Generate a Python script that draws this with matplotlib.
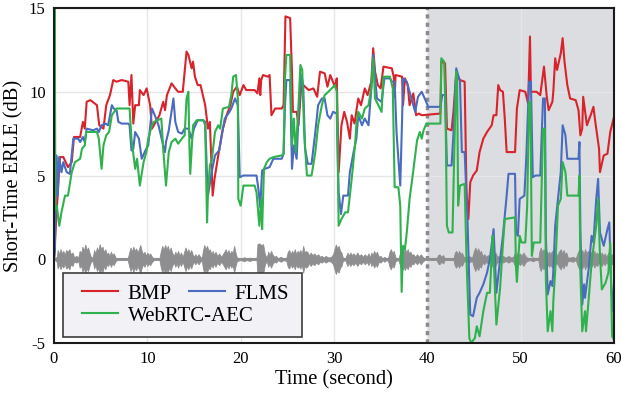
import numpy as np
import matplotlib
matplotlib.use("Agg")
import matplotlib.pyplot as plt
from matplotlib.patches import Rectangle

plt.rcParams['font.family'] = ['Liberation Serif', 'DejaVu Serif']

# (time s, ERLE dB)
bmp = [(0, 0), (0.3, 3.0), (0.64, 6.1), (1.0, 6.1), (1.5, 5.5), (1.9, 5.8), (2.14, 7.3), (2.8, 7.3),
       (3.1, 8.2), (3.3, 7.8), (3.5, 9.4), (3.9, 9.5), (4.6, 9.2), (4.85, 8.0), (5.3, 7.8), (5.6, 9.2),
       (6.0, 9.8), (6.35, 10.7), (6.7, 10.6), (7.25, 10.7), (7.96, 10.6), (8.1, 9.2), (8.3, 11.0),
       (8.5, 8.1), (8.7, 9.2), (9.1, 9.2), (9.2, 10.1), (9.6, 9.8), (9.93, 10.2), (10.3, 9.2),
       (10.5, 7.8), (11.3, 8.6), (11.7, 9.4), (11.9, 8.9), (12.1, 9.8), (12.6, 10.5), (13.0, 10.2),
       (13.3, 10.0), (13.8, 10.0), (14.2, 12.4), (14.4, 12.2), (14.75, 11.4), (14.9, 11.8),
       (15.1, 10.9), (15.4, 10.4), (15.7, 10.4), (16.2, 9.2), (16.5, 7.8), (16.7, 8.2), (17.0, 3.8),
       (17.2, 4.8), (17.6, 6.2), (18.1, 7.8), (18.5, 8.6), (18.9, 9.2), (19.2, 10.0), (19.6, 10.3),
       (19.9, 9.8), (20.3, 10.4), (20.6, 10.1), (21.5, 10.1), (21.8, 9.9), (22.0, 10.8), (22.1, 9.8),
       (22.2, 10.7), (22.4, 11.0), (22.9, 10.9), (23.1, 11.0), (23.3, 8.6), (23.7, 9.0), (24.4, 9.0),
       (24.6, 9.2), (24.8, 14.5), (25.3, 14.4), (25.5, 11.2), (25.6, 8.8), (26.0, 8.8), (26.2, 8.0),
       (26.5, 10.4), (26.7, 10.4), (27.3, 10.1), (27.8, 10.2), (28.2, 9.7), (28.5, 11.2), (29.0, 11.1),
       (29.3, 10.3), (29.6, 11.0), (30.1, 10.3), (30.3, 10.8), (30.5, 5.2), (30.8, 8.0), (31.1, 8.8),
       (31.4, 8.2), (31.7, 7.2), (31.9, 8.6), (32.2, 8.1), (32.6, 9.6), (32.9, 9.2), (33.3, 10.2),
       (33.6, 9.8), (34.0, 10.6), (34.2, 12.6), (34.4, 11.2), (34.7, 10.4), (35.0, 10.2), (35.3, 11.5),
       (36.2, 11.4), (36.4, 10.9), (36.5, 9.7), (36.6, 11.0), (37.3, 10.9), (37.4, 9.2), (37.6, 10.8),
       (37.9, 10.4), (38.1, 9.2), (38.5, 9.9), (38.8, 8.6), (39.1, 8.7), (39.4, 8.6), (41.4, 8.7),
       (41.5, 11.8), (41.9, 11.7), (42.1, 7.8), (42.6, 7.7), (42.8, 8.8), (43.1, 11.1), (43.5, 10.7),
       (44.0, 10.6), (44.2, 4.0), (44.4, 2.4), (44.6, 4.6), (44.9, 5.0), (45.3, 5.3), (45.6, 6.4),
       (46.0, 7.2), (46.4, 7.6), (46.9, 8.0), (47.1, 8.6), (47.4, 8.6), (47.6, 10.4), (47.8, 10.1),
       (48.1, 10.0), (48.3, 8.4), (48.5, 6.4), (49.4, 6.4), (49.6, 9.0), (49.9, 10.1), (50.5, 10.0),
       (50.8, 9.3), (51.0, 13.3), (51.1, 10.0), (51.7, 10.0), (52.1, 9.8), (52.5, 11.5), (52.8, 9.7),
       (53.0, 8.9), (53.4, 9.4), (53.5, 10.0), (53.7, 12.0), (53.9, 11.3), (54.3, 12.3), (54.5, 13.2),
       (54.7, 11.8), (55.0, 10.4), (55.3, 9.6), (55.9, 9.5), (56.2, 8.9), (56.4, 7.4), (56.6, 7.8),
       (56.7, 9.7), (57.1, 8.0), (57.5, 8.6), (57.8, 9.1), (58.0, 8.2), (58.4, 6.6), (58.5, 5.2),
       (58.9, 6.2), (59.3, 6.3), (59.6, 7.6), (60.0, 8.5)]

flms = [(0, 0), (0.1, 0.5), (0.25, 6.2), (0.4, 3.8), (0.55, 6.1), (0.8, 5.2), (1.0, 5.8), (1.36, 5.2),
        (1.7, 5.1), (2.07, 7.2), (2.6, 7.2), (2.8, 7.0), (3.1, 7.3), (3.3, 7.0), (3.5, 7.8), (4.2, 7.7),
        (4.6, 7.8), (4.8, 7.6), (5.1, 8.0), (5.5, 8.1), (5.8, 8.0), (6.2, 9.2), (6.4, 9.0), (6.7, 8.9),
        (6.9, 8.2), (7.25, 8.1), (7.96, 8.1), (8.1, 8.0), (8.3, 6.5), (8.5, 6.6), (8.7, 7.6), (9.1, 7.2),
        (9.4, 6.0), (9.8, 6.5), (10.1, 6.8), (10.5, 9.0), (10.8, 8.6), (11.2, 8.0), (11.7, 6.8),
        (11.9, 6.4), (12.0, 7.0), (12.3, 7.7), (12.8, 9.6), (13.0, 8.2), (13.3, 7.6), (13.7, 7.5),
        (14.0, 7.8), (14.4, 7.8), (14.75, 7.2), (15.0, 7.8), (15.4, 8.3), (16.0, 8.3), (16.2, 8.2),
        (16.4, 4.9), (16.5, 3.8), (16.9, 5.2), (17.25, 6.2), (17.7, 6.5), (18.0, 7.5), (18.3, 8.4),
        (18.8, 8.8), (19.0, 9.0), (19.4, 9.6), (19.7, 9.2), (19.9, 4.9), (20.3, 5.0), (21.7, 5.0),
        (21.9, 4.2), (22.1, 3.1), (22.3, 5.3), (22.6, 5.4), (23.1, 5.5), (23.5, 6.0), (24.4, 6.0),
        (24.6, 6.3), (24.75, 9.2), (24.9, 10.7), (25.3, 10.7), (25.5, 5.4), (25.7, 6.8), (26.0, 6.0),
        (26.2, 8.6), (26.5, 11.0), (26.7, 10.4), (26.9, 6.6), (27.2, 5.7), (27.6, 5.7), (28.0, 7.6),
        (28.3, 9.2), (28.7, 9.6), (29.0, 9.6), (29.3, 8.6), (29.6, 8.4), (29.9, 8.8), (30.3, 8.7),
        (30.5, 4.0), (30.75, 2.7), (31.0, 3.8), (31.5, 3.8), (31.7, 5.2), (32.1, 6.4), (32.4, 7.2),
        (32.6, 8.6), (33.0, 8.0), (33.3, 8.4), (33.7, 8.0), (34.0, 10.2), (34.2, 12.2), (34.6, 9.6),
        (35.1, 9.4), (35.4, 10.8), (36.0, 10.8), (36.2, 10.6), (36.5, 10.6), (36.7, 7.6), (37.1, 4.4),
        (37.3, 8.4), (37.4, 10.8), (37.8, 10.6), (38.1, 10.0), (38.4, 9.4), (38.7, 8.8), (39.0, 9.7),
        (39.4, 10.0), (39.8, 9.5), (40.1, 9.1), (41.4, 9.1), (41.6, 9.8), (41.9, 9.8), (42.1, 5.6),
        (42.6, 5.6), (42.8, 7.5), (43.1, 11.4), (43.5, 10.6), (43.7, 6.4), (44.0, 6.4), (44.3, 2.4),
        (44.6, -3.3), (44.9, -3.4), (45.3, -2.3), (45.6, -2.0), (46.0, -1.5), (46.4, -0.8), (46.7, 0.0),
        (47.1, 1.8), (47.4, -2.0), (47.6, -1.0), (47.8, 0.0), (48.1, 1.4), (48.5, 3.8), (48.7, 5.1),
        (49.4, 5.1), (49.5, 1.6), (49.7, 1.4), (49.9, 3.6), (50.4, 3.8), (50.6, 6.0), (50.9, 10.6),
        (51.1, 10.6), (51.3, 4.9), (51.6, 5.0), (52.1, 5.0), (52.4, 9.6), (52.6, 9.6), (52.7, 1.4),
        (52.9, -2.1), (53.2, -1.3), (53.4, -1.6), (53.5, -0.7), (53.7, 2.0), (54.0, 3.6), (54.3, 5.2),
        (54.5, 8.0), (54.8, 7.4), (55.0, 6.0), (56.2, 6.0), (56.3, 7.0), (56.4, 1.8), (56.6, -2.7),
        (56.8, -1.5), (56.9, -2.3), (57.3, -0.5), (57.6, 1.4), (57.8, 1.0), (58.1, 3.6), (58.3, 4.8),
        (58.5, 1.6), (58.9, 0.8), (59.3, 1.8), (59.5, 2.2), (59.7, -1.6), (59.9, -3.1), (60.0, -1.5)]

webrtc = [(0, 0), (0.02, 15), (0.08, 15), (0.15, 3.0), (0.3, 3.2), (0.57, 2.0), (0.8, 2.8), (1.18, 3.8),
          (1.5, 3.8), (1.9, 5.2), (2.25, 5.8), (2.8, 6.0), (3.0, 6.6), (3.3, 6.8), (3.45, 7.6), (4.2, 7.6),
          (4.6, 7.6), (4.8, 7.2), (5.1, 5.4), (5.3, 6.8), (5.6, 7.4), (5.9, 7.6), (6.2, 8.6), (6.7, 9.0),
          (8.1, 9.0), (8.3, 7.2), (8.7, 5.4), (8.9, 6.0), (9.2, 4.4), (9.6, 5.8), (9.9, 6.4), (10.1, 7.2),
          (10.5, 8.0), (10.7, 8.2), (11.1, 8.3), (11.5, 8.4), (11.7, 6.6), (12.0, 4.4), (12.3, 6.4),
          (12.6, 7.0), (13.0, 7.2), (13.3, 6.9), (13.7, 7.2), (14.0, 7.4), (14.2, 9.6), (14.4, 10.0),
          (14.5, 7.0), (14.6, 5.1), (14.9, 8.0), (15.3, 8.3), (16.0, 8.3), (16.2, 8.0), (16.4, 2.2),
          (16.5, 4.0), (16.7, 5.6), (16.9, 5.9), (17.25, 7.6), (17.6, 8.0), (17.8, 7.8), (18.1, 9.0),
          (18.75, 9.1), (19.0, 9.8), (19.2, 10.9), (19.5, 11.0), (19.7, 9.6), (19.75, 3.6), (20.0, 3.2),
          (20.3, 4.4), (21.5, 4.4), (21.7, 4.0), (22.0, 2.0), (22.2, 3.6), (22.3, 1.8), (22.5, 5.4),
          (22.8, 5.8), (23.1, 6.0), (23.5, 6.1), (24.4, 6.2), (24.6, 6.3), (24.75, 10.8), (24.9, 12.2),
          (25.3, 12.2), (25.5, 6.8), (25.7, 8.4), (25.9, 6.4), (26.2, 9.2), (26.4, 11.6), (26.6, 11.3),
          (26.8, 7.6), (27.1, 5.0), (27.6, 5.0), (28.0, 6.4), (28.3, 8.0), (28.7, 9.2), (29.0, 9.8),
          (29.4, 10.0), (29.75, 10.2), (30.1, 10.4), (30.3, 10.0), (30.5, 2.0), (30.8, 2.4), (31.2, 2.8),
          (31.5, 2.8), (31.9, 4.8), (32.25, 6.8), (32.4, 8.0), (32.6, 8.8), (33.0, 8.4), (33.3, 9.0),
          (33.7, 9.2), (34.0, 10.2), (34.2, 12.0), (34.4, 9.6), (34.75, 9.2), (35.1, 8.8), (35.3, 10.9),
          (36.0, 10.9), (36.3, 10.2), (36.5, 4.3), (36.9, 4.3), (37.1, 3.2), (37.25, -1.95), (37.4, 0.8),
          (37.6, 0.6), (37.8, 1.6), (38.1, 3.6), (38.5, 5.3), (38.9, 7.1), (39.2, 7.6), (39.4, 7.2),
          (39.6, 7.7), (39.9, 8.1), (41.4, 8.1), (41.5, 12.0), (41.8, 11.8), (41.95, 9.0), (42.1, 2.0),
          (42.3, 1.6), (42.7, 1.6), (42.9, 6.7), (43.1, 11.2), (43.2, 10.6), (43.3, 3.2), (43.5, 4.4),
          (44.0, 4.5), (44.2, 0.0), (44.5, -4.7), (44.7, -5.0), (45.1, -4.7), (45.3, -4.0), (45.6, -4.6),
          (46.0, -3.1), (46.4, -2.0), (46.7, -2.0), (47.0, 1.4), (47.1, 0.2), (47.4, -3.9), (47.8, -1.7),
          (48.1, 0.9), (48.3, 2.4), (49.4, 2.5), (49.5, -0.5), (49.6, -1.35), (49.9, 1.4), (50.1, 1.0),
          (50.5, 1.0), (50.7, 3.2), (50.9, 9.4), (51.05, 9.4), (51.2, 0.2), (51.4, 1.0), (52.1, 1.0),
          (52.4, 7.8), (52.6, 7.8), (52.7, -1.2), (52.9, -4.3), (53.2, -3.1), (53.4, -4.3), (53.5, -2.5),
          (53.7, -0.7), (54.0, 3.2), (54.3, 3.6), (54.5, 5.8), (54.8, 5.2), (55.0, 3.8), (56.2, 3.8),
          (56.3, 5.0), (56.4, -0.8), (56.6, -4.3), (56.9, -3.1), (57.0, -4.3), (57.3, -2.3), (57.6, -0.2),
          (58.1, 2.0), (58.3, 3.6), (58.5, 0.2), (58.7, -1.8), (59.1, -1.4), (59.4, -0.8), (59.6, 1.0),
          (59.8, -4.6), (60.0, -4.8)]

# envelope of the far-end speech waveform drawn around 0 dB
wave = [(0.0, 0), (0.3, 0.15), (0.4, 0.55), (0.55, 0.3), (0.7, 0.6), (0.85, 0.35), (1.0, 0.5),
        (1.15, 0.25), (1.3, 0.55), (1.5, 0.45), (1.65, 0.6), (1.8, 0.3), (2.0, 0.4), (2.15, 0.12),
        (2.4, 0.2), (2.6, 0.1), (2.75, 0.5), (2.9, 0.35), (3.05, 0.75), (3.2, 0.5), (3.35, 0.88),
        (3.5, 0.55), (3.65, 0.7), (3.8, 0.4), (3.95, 0.15), (4.15, 0.1), (4.3, 0.55), (4.45, 0.35),
        (4.6, 0.7), (4.75, 0.5), (4.9, 0.9), (5.05, 0.6), (5.2, 0.75), (5.35, 0.4), (5.5, 0.6),
        (5.65, 0.3), (5.8, 0.4), (5.95, 0.2), (6.1, 0.45), (6.25, 0.25), (6.4, 0.35), (6.6, 0.1),
        (6.8, 0.05), (7.9, 0.05), (8.05, 0.4), (8.2, 0.7), (8.35, 0.45), (8.5, 0.75), (8.65, 0.5),
        (8.8, 0.65), (8.95, 0.4), (9.1, 0.6), (9.25, 0.85), (9.4, 0.5), (9.55, 0.3), (9.7, 0.45),
        (9.85, 0.2), (10.0, 0.4), (10.15, 0.25), (10.3, 0.35), (10.5, 0.15), (10.7, 0.05), (11.3, 0.05),
        (11.45, 0.5), (11.6, 0.8), (11.75, 0.55), (11.9, 0.85), (12.05, 0.6), (12.2, 0.8), (12.35, 0.45),
        (12.5, 0.7), (12.65, 0.4), (12.85, 0.2), (13.0, 0.45), (13.15, 0.25), (13.3, 0.5), (13.45, 0.2),
        (13.6, 0.4), (13.8, 0.15), (13.95, 0.45), (14.1, 0.7), (14.25, 0.4), (14.4, 0.6), (14.55, 0.35),
        (14.7, 0.55), (14.85, 0.3), (15.0, 0.15), (15.15, 0.3), (15.3, 0.15), (15.5, 0.3), (15.7, 0.12),
        (15.85, 0.1), (15.95, 0.5), (16.1, 0.85), (16.25, 0.6), (16.4, 0.8), (16.55, 0.5), (16.7, 0.6),
        (16.85, 0.3), (17.0, 0.5), (17.15, 0.25), (17.3, 0.45), (17.5, 0.2), (17.7, 0.35), (17.9, 0.15),
        (18.1, 0.3), (18.25, 0.45), (18.4, 0.6), (18.55, 0.35), (18.7, 0.55), (18.85, 0.3), (19.0, 0.5),
        (19.15, 0.35), (19.3, 0.8), (19.45, 0.4), (19.6, 0.1), (20.0, 0.05), (20.4, 0.12), (20.6, 0.05),
        (21.0, 0.1), (21.2, 0.05), (21.7, 0.05), (21.8, 0.9), (22.0, 0.95), (22.2, 0.85), (22.4, 0.9),
        (22.6, 0.3), (22.8, 0.1), (22.95, 0.45), (23.1, 0.25), (23.25, 0.5), (23.4, 0.3), (23.6, 0.15),
        (23.8, 0.2), (24.0, 0.05), (24.3, 0.15), (24.6, 0.05), (24.9, 0.1), (25.05, 0.45), (25.2, 0.55),
        (25.35, 0.3), (25.5, 0.5), (25.65, 0.35), (25.8, 0.6), (25.95, 0.3), (26.1, 0.5), (26.25, 0.4),
        (26.4, 0.55), (26.55, 0.3), (26.7, 0.8), (26.85, 0.4), (27.0, 0.5), (27.2, 0.4), (27.35, 0.2),
        (27.5, 0.4), (27.7, 0.25), (27.9, 0.35), (28.1, 0.2), (28.3, 0.3), (28.5, 0.15), (28.7, 0.2),
        (28.9, 0.1), (29.1, 0.2), (29.4, 0.1), (29.7, 0.15), (29.9, 0.3), (30.05, 0.6), (30.2, 0.88),
        (30.35, 0.65), (30.5, 0.8), (30.65, 0.5), (30.8, 0.4), (30.95, 0.1), (31.2, 0.05), (31.45, 0.4),
        (31.6, 0.2), (31.75, 0.4), (31.9, 0.25), (32.1, 0.35), (32.3, 0.2), (32.5, 0.4), (32.7, 0.2),
        (32.9, 0.3), (33.1, 0.15), (33.3, 0.3), (33.5, 0.15), (33.7, 0.35), (33.85, 0.1), (34.0, 0.4),
        (34.15, 0.25), (34.3, 0.5), (34.45, 0.3), (34.6, 0.45), (34.8, 0.15), (35.0, 0.2), (35.2, 0.05),
        (35.4, 0.15), (35.6, 0.05), (35.8, 0.1), (35.95, 0.45), (36.1, 0.6), (36.25, 0.35), (36.4, 0.5),
        (36.6, 0.1), (36.9, 0.05), (37.15, 0.5), (37.3, 0.7), (37.45, 0.45), (37.6, 0.65), (37.75, 0.4),
        (37.9, 0.6), (38.05, 0.35), (38.2, 0.45), (38.35, 0.25), (38.5, 0.3), (38.7, 0.15), (38.9, 0.3),
        (39.1, 0.15), (39.3, 0.3), (39.5, 0.15), (39.7, 0.05), (41.0, 0.05), (41.15, 0.25), (41.3, 0.3),
        (41.5, 0.15), (41.7, 0.25), (41.85, 0.05), (42.8, 0.05), (42.95, 0.4), (43.1, 0.5), (43.25, 0.3),
        (43.4, 0.5), (43.55, 0.3), (43.7, 0.4), (43.9, 0.15), (44.1, 0.1), (44.4, 0.2), (44.8, 0.1),
        (45.0, 0.5), (45.15, 0.7), (45.3, 0.45), (45.45, 0.65), (45.6, 0.4), (45.75, 0.5), (45.9, 0.2),
        (46.1, 0.3), (46.3, 0.15), (46.5, 0.25), (46.7, 0.1), (46.85, 0.35), (47.0, 0.45), (47.15, 0.25),
        (47.3, 0.4), (47.5, 0.15), (47.7, 0.2), (47.9, 0.1), (48.1, 0.2), (48.4, 0.1), (48.7, 0.2),
        (49.0, 0.1), (49.2, 0.15), (49.35, 0.35), (49.5, 0.2), (49.65, 0.4), (49.8, 0.25), (49.95, 0.35),
        (50.1, 0.2), (50.3, 0.4), (50.5, 0.2), (50.7, 0.1), (51.0, 0.05), (51.3, 0.12), (51.6, 0.05),
        (51.9, 0.05), (52.0, 0.45), (52.15, 0.7), (52.3, 0.45), (52.45, 0.6), (52.6, 0.35), (52.75, 0.55),
        (52.9, 0.3), (53.05, 0.45), (53.2, 0.3), (53.35, 0.5), (53.5, 0.25), (53.65, 0.45), (53.8, 0.2),
        (53.95, 0.3), (54.15, 0.5), (54.3, 0.6), (54.45, 0.35), (54.6, 0.55), (54.75, 0.3), (54.9, 0.4),
        (55.05, 0.1), (55.3, 0.1), (55.6, 0.15), (55.9, 0.05), (56.15, 0.45), (56.3, 0.6), (56.45, 0.35),
        (56.6, 0.55), (56.75, 0.3), (56.9, 0.6), (57.05, 0.35), (57.2, 0.5), (57.4, 0.3), (57.6, 0.45),
        (57.75, 0.25), (57.9, 0.5), (58.05, 0.3), (58.2, 0.4), (58.4, 0.2), (58.55, 0.3), (58.7, 0.4),
        (58.85, 0.2), (59.0, 0.35), (59.2, 0.15), (59.4, 0.4), (59.6, 0.2), (59.8, 0.3), (60.0, 0.15)]

double_talk_start = 40.0
xticks = [0, 10, 20, 30, 40, 50, 60]
yticks = [-5, 0, 5, 10, 15]

fig = plt.figure(figsize=(6.22, 4.01), dpi=100)
ax = fig.add_axes([0.0868, 0.1446, 0.9003, 0.8354])

ax.axvspan(double_talk_start, 60, color='#dcdde0', zorder=0.2, lw=0)
ax.axvline(double_talk_start, color='#8a8a8a', lw=2.5, ls=(0, (1.2, 1.2)), zorder=1)

wt, wa = np.array(wave).T
ax.fill_between(wt, -wa, wa, color='#8e8e90', lw=0.6, edgecolor='#8e8e90', zorder=1.5)
ax.plot([0, 60], [0, 0], color='#8e8e90', lw=1.5, zorder=1.5)

lines = {}
for data, col, name in [(bmp, '#d9232b', 'BMP'), (flms, '#4a6cbf', 'FLMS'),
                        (webrtc, '#2fb14d', 'WebRTC-AEC')]:
    t, v = np.array(data).T
    lines[name], = ax.plot(t, v, color=col, lw=1.5, label=name, zorder=2)

ax.set_xlim(0, 60)
ax.set_ylim(-5, 15)
ax.set_xticks(xticks)
ax.set_yticks(yticks)
ax.set_xticklabels([str(x) for x in xticks])
ax.set_yticklabels([str(y) for y in yticks])
ax.tick_params(length=0, labelsize=12, pad=6)
ax.set_axisbelow(True)
ax.grid(True, color='#e6e6e8', lw=1)
for s in ax.spines.values():
    s.set_color('#1a1a1a')
    s.set_linewidth(1.5)

ax.set_xlabel('Time (second)', fontsize=14.8, labelpad=2)
ax.set_ylabel('Short-Time ERLE (dB)', fontsize=14.8, labelpad=4)

# legend: framed box, BMP / FLMS on the first row, WebRTC-AEC below
ax.add_patch(Rectangle((0.0161, 0.0179), 0.427, 0.191, transform=ax.transAxes,
                       facecolor='#f1f1f6', edgecolor='#3c3c3c', lw=1.2, zorder=4))
leg_kw = dict(loc='upper left', frameon=False, fontsize=15, handlelength=1.75,
              handletextpad=0.45, labelspacing=0.12, borderpad=0, borderaxespad=0)
leg1 = ax.legend([lines['BMP'], lines['WebRTC-AEC']], ['BMP', 'WebRTC-AEC'],
                 bbox_to_anchor=(0.05, 0.176), **leg_kw)
leg1.set_zorder(5)
ax.add_artist(leg1)
leg2 = ax.legend([lines['FLMS']], ['FLMS'], bbox_to_anchor=(0.241, 0.176), **leg_kw)
leg2.set_zorder(5)

fig.savefig('out.png', dpi=100)
